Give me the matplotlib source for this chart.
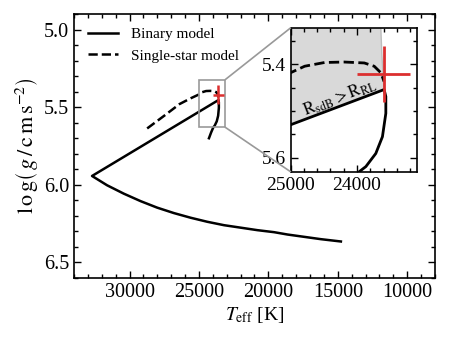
import matplotlib
matplotlib.use("Agg")
import matplotlib.pyplot as plt
from matplotlib.patches import Rectangle, Polygon, ConnectionPatch
from matplotlib.ticker import MultipleLocator

plt.rcParams['font.family'] = ['Liberation Serif', 'DejaVu Serif']
plt.rcParams['mathtext.fontset'] = 'stix'

# ---- data ----
binary_T = [24280, 24120, 23967, 23867, 23718, 23618, 23567, 23567, 23593,
            32700, 31616, 30411, 29206, 28009, 26804, 25599, 24401, 23196,
            21991, 20794, 19589, 18629, 16219, 14777]
binary_logg = [5.700, 5.662, 5.630, 5.619, 5.591, 5.555, 5.505, 5.469, 5.454,
               5.943, 6.003, 6.057, 6.105, 6.147, 6.182, 6.212, 6.238, 6.260,
               6.276, 6.292, 6.305, 6.320, 6.350, 6.365]
single_T = [28730, 27500, 26400, 25600, 25000, 24787, 24488, 24190, 23891,
            23742, 23642, 23593]
single_logg = [5.637, 5.555, 5.480, 5.443, 5.418, 5.404, 5.396, 5.395, 5.397,
               5.404, 5.418, 5.437]
# R_sdB > R_RL region boundary (binary line, then edge up to top)
shade_T = [25600, 23593, 23610, 23628, 23648, 25600]
shade_logg = [5.564, 5.454, 5.420, 5.375, 5.300, 5.300]
obs_T, obs_logg = 23600, 5.42
obs_Terr, obs_loggerr = 400, 0.06

fig = plt.figure(figsize=(4.49, 3.41), dpi=100)
ax = fig.add_axes([0.1648, 0.1848, 0.804, 0.7741])

lw = 1.8
ax.plot(binary_T, binary_logg, color='black', lw=lw, label='Binary model')
ax.plot(single_T, single_logg, color='black', lw=lw, ls='--', label='Single-star model')
ax.errorbar([obs_T], [obs_logg], xerr=[obs_Terr], yerr=[obs_loggerr], fmt='none',
            ecolor='#dc2f2f', elinewidth=1.8, capsize=0, zorder=5)

ax.set_xlim(34000, 8000)
ax.set_ylim(6.6, 4.9)
ax.xaxis.set_major_locator(MultipleLocator(5000))
ax.xaxis.set_minor_locator(MultipleLocator(1000))
ax.yaxis.set_major_locator(MultipleLocator(0.5))
ax.yaxis.set_minor_locator(MultipleLocator(0.1))
ax.tick_params(which='both', direction='in', top=True, right=True, labelsize=14.5)
ax.tick_params(which='major', length=5, width=1)
ax.tick_params(which='minor', length=3, width=1)
for s in ax.spines.values():
    s.set_linewidth(1.2)
ax.set_xlabel(r'$T_{\rm eff}$ [K]', fontsize=14, labelpad=2)
ax.set_ylabel(r'$\mathrm{l\,o\,g}\left(\,g\,/\,\mathrm{c\,m\,s}^{-2}\right)$',
              fontsize=16, labelpad=3)
ax.legend(loc='upper left', frameon=False, fontsize=11, handlelength=2.0)

# inset
axins = fig.add_axes([0.647, 0.4965, 0.2815, 0.4215])
axins.add_patch(Polygon(list(zip(shade_T, shade_logg)), closed=True,
                        facecolor='#d9d9d9', edgecolor='none', zorder=0))
axins.plot(shade_T[1:5], shade_logg[1:5], color='#bdbdbd', lw=1.0, zorder=1)
axins.plot(binary_T, binary_logg, color='black', lw=2.0, zorder=3)
axins.plot(single_T, single_logg, color='black', lw=2.0, ls='--', zorder=3)
axins.errorbar([obs_T], [obs_logg], xerr=[obs_Terr], yerr=[obs_loggerr], fmt='none',
               ecolor='#dc2f2f', elinewidth=2.0, capsize=0, zorder=5)
axins.set_xlim(25000, 23100)
axins.set_ylim(5.63, 5.322)
axins.xaxis.set_major_locator(MultipleLocator(1000))
axins.xaxis.set_minor_locator(MultipleLocator(200))
axins.yaxis.set_major_locator(MultipleLocator(0.2))
axins.yaxis.set_minor_locator(MultipleLocator(0.05))
axins.tick_params(which='both', direction='in', top=True, right=True, labelsize=14)
axins.tick_params(which='major', length=5, width=1)
axins.tick_params(which='minor', length=3, width=1)
for s in axins.spines.values():
    s.set_linewidth(1.2)
axins.text(24260, 5.470, r'$\mathrm{R_{sdB} > R_{RL}}$', fontsize=12.5,
           rotation=21, ha='center', va='center', rotation_mode='anchor', zorder=4)

# zoom indicator
x0, x1 = axins.get_xlim()
y0, y1 = axins.get_ylim()
ax.add_patch(Rectangle((x0, y1), x1 - x0, y0 - y1, fill=False,
                       edgecolor='#999999', lw=1.2, zorder=2))
for (xd, yd, xa, ya) in [(x1, y1, 0, 1), (x1, y0, 0, 0)]:
    con = ConnectionPatch(xyA=(xd, yd), coordsA=ax.transData,
                          xyB=(xa, ya), coordsB=axins.transAxes,
                          color='#999999', lw=1.2)
    fig.add_artist(con)

fig.savefig('out.png', dpi=100)
